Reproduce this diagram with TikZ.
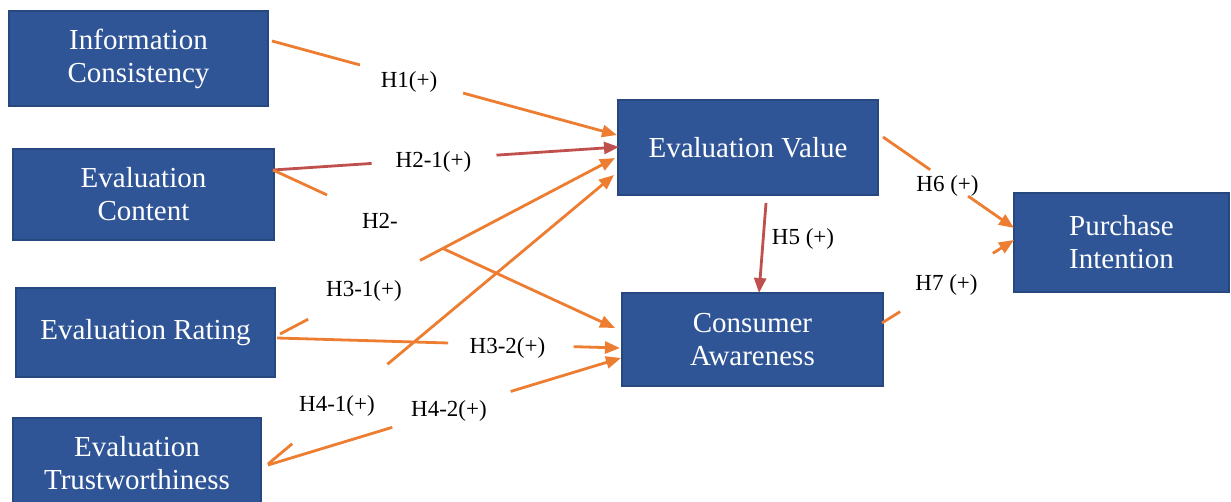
\documentclass[tikz,border=0pt]{standalone}
\usepackage{fontspec}
\setmainfont{Liberation Serif}
\usetikzlibrary{arrows.meta,calc}
\definecolor{boxblue}{HTML}{2F5597}
\definecolor{boxedge}{HTML}{27477F}
\definecolor{arrorange}{HTML}{ED7D31}
\definecolor{arrred}{HTML}{C0504D}
\begin{document}
\begin{tikzpicture}[x=0.5pt,y=-0.5pt,
  bx/.style={rectangle, fill=boxblue, draw=boxedge, line width=0.6pt, inner sep=0pt, text=white, align=center, font=\fontsize{14.5}{16.5}\selectfont},
  lbl/.style={inner sep=0pt, font=\fontsize{11.5}{13}\selectfont, text=black},
  link/.style={draw=arrorange, line width=1.4pt},
  redlink/.style={draw=arrred, line width=1.4pt},
  tip/.style={-{Triangle[length=7.5pt,width=6pt]}}
]
\clip (0,0) rectangle (1231,502);
\fill[white] (0,0) rectangle (1231,502);
% boxes
\node[bx, minimum width=129.5pt, minimum height=47.5pt] (ic) at (138.5,58.5) {Information\\Consistency};
\node[bx, minimum width=130.5pt, minimum height=45.5pt] (ec) at (143.5,194.5) {Evaluation\\Content};
\node[bx, minimum width=129.5pt, minimum height=44.5pt] (er) at (145.5,332.5) {Evaluation Rating};
\node[bx, minimum width=124pt, minimum height=45pt] (et) at (137,463) {Evaluation\\Trustworthiness};
\node[bx, minimum width=130pt, minimum height=47.5pt] (ev) at (748,147.5) {Evaluation Value};
\node[bx, minimum width=130.5pt, minimum height=46.5pt] (ca) at (752.5,339.5) {Consumer\\Awareness};
\node[bx, minimum width=107.5pt, minimum height=49.5pt] (pi) at (1121.5,242.5) {Purchase\\Intention};
% connector end points
\coordinate (h1s) at (272,41);   \coordinate (h1e) at (617,135);
\coordinate (h21s) at (273,170); \coordinate (h21e) at (619,147);
\coordinate (h22s) at (273,170); \coordinate (h22e) at (615,328);
\coordinate (h31s) at (280,334); \coordinate (h31e) at (615,158);
\coordinate (h32s) at (277,338); \coordinate (h32e) at (620,348);
\coordinate (h41s) at (268,464); \coordinate (h41e) at (614,175);
\coordinate (h42s) at (268,465); \coordinate (h42e) at (621,358);
\coordinate (h5s) at (766,203);  \coordinate (h5e) at (759,293);
\coordinate (h6s) at (883,137);  \coordinate (h6e) at (1014,228);
\coordinate (h7s) at (882,323);  \coordinate (h7e) at (1014,240);
% H1
\draw[link] (h1s) -- ($(h1s)!0.255!(h1e)$);
\draw[link,tip] ($(h1s)!0.554!(h1e)$) -- (h1e);
\node[lbl] (l1) at (409,82) {H1(+)};
% H2-1
\draw[redlink] (h21s) -- ($(h21s)!0.285!(h21e)$);
\draw[redlink,tip] ($(h21s)!0.646!(h21e)$) -- (h21e);
\node[lbl] (l21) at (433.5,162) {H2-1(+)};
% H2-2
\draw[link] (h22s) -- ($(h22s)!0.158!(h22e)$);
\draw[link,tip] ($(h22s)!0.494!(h22e)$) -- (h22e);
\node[lbl] (l22) at (380,221) {H2-};
% H3-1
\draw[link] (h31s) -- ($(h31s)!0.084!(h31e)$);
\draw[link,tip] ($(h31s)!0.418!(h31e)$) -- (h31e);
\node[lbl] (l31) at (364,291) {H3-1(+)};
% H3-2
\draw[link] (h32s) -- ($(h32s)!0.499!(h32e)$);
\draw[link,tip] ($(h32s)!0.865!(h32e)$) -- (h32e);
\node[lbl] (l32) at (507.5,348) {H3-2(+)};
% H4-1
\draw[link] (h41s) -- ($(h41s)!0.070!(h41e)$);
\draw[link,tip] ($(h41s)!0.345!(h41e)$) -- (h41e);
\node[lbl] (l41) at (337,406) {H4-1(+)};
% H4-2
\draw[link] (h42s) -- ($(h42s)!0.352!(h42e)$);
\draw[link,tip] ($(h42s)!0.6875!(h42e)$) -- (h42e);
\node[lbl] (l42) at (449,411) {H4-2(+)};
% H5
\draw[redlink,tip] (h5s) -- (h5e);
\node[lbl] (l5) at (803,239) {H5 (+)};
% H6
\draw[link] (h6s) -- ($(h6s)!0.36!(h6e)$);
\draw[link,tip] ($(h6s)!0.65!(h6e)$) -- (h6e);
\node[lbl] (l6) at (947.5,186) {H6 (+)};
% H7
\draw[link] (h7s) -- ($(h7s)!0.137!(h7e)$);
\draw[link,tip] ($(h7s)!0.84!(h7e)$) -- (h7e);
\node[lbl] (l7) at (946.5,285) {H7 (+)};
\end{tikzpicture}
\end{document}
